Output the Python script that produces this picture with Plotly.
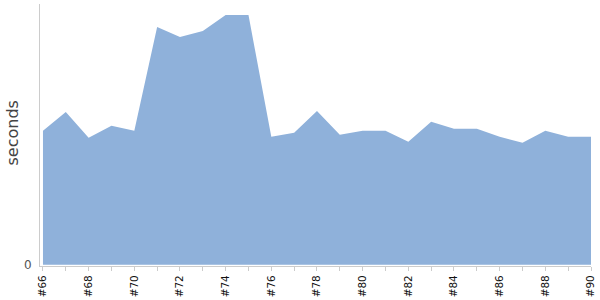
import plotly.graph_objects as go

builds = ["#66","#67","#68","#69","#70","#71","#72","#73","#74","#75","#76","#77","#78",
          "#79","#80","#81","#82","#83","#84","#85","#86","#87","#88","#89","#90"]
seconds = [134, 153, 127, 139, 134, 238, 228, 234, 250, 250, 128, 132, 154,
           130, 134, 134, 123, 143, 136, 136, 128, 122, 134, 128, 128]

xs = list(range(len(builds)))
labels = [b if i % 2 == 0 else "" for i, b in enumerate(builds)]
fig = go.Figure()
fig.add_trace(go.Scatter(
    x=xs, y=seconds, mode="lines", fill="tozeroy",
    line=dict(width=0, color="rgb(143,177,218)"),
    fillcolor="rgb(143,177,218)", hoverinfo="skip", showlegend=False))

fig.update_layout(
    width=600, height=300, margin=dict(l=40, r=9, t=4, b=34),
    plot_bgcolor="white", paper_bgcolor="white",
    font=dict(family="DejaVu Sans", color="#444"),
    annotations=[dict(text="seconds", textangle=-90, xref="paper", yref="paper",
                      x=(12 - 40) / 551, y=(266 - 133.5) / 262, xanchor="center",
                      yanchor="middle", showarrow=False,
                      font=dict(size=16, color="#444"))],
)
fig.update_xaxes(
    range=[-0.13, 24], tickvals=xs, ticktext=labels, tickangle=-90,
    showline=True, linecolor="#ccc", linewidth=1, showgrid=False, zeroline=False,
    ticks="outside", ticklen=4, tickcolor="#ccc",
    tickfont=dict(size=10.5, color="#111"),
)
fig.update_yaxes(
    range=[-1.3, 261], tickvals=[0], ticktext=["0"], showline=True, linecolor="#ccc",
    showgrid=False, zeroline=False, ticks="", ticklabelstandoff=5,
    tickfont=dict(size=12, color="#555"),
)
fig.write_html("out.html")
